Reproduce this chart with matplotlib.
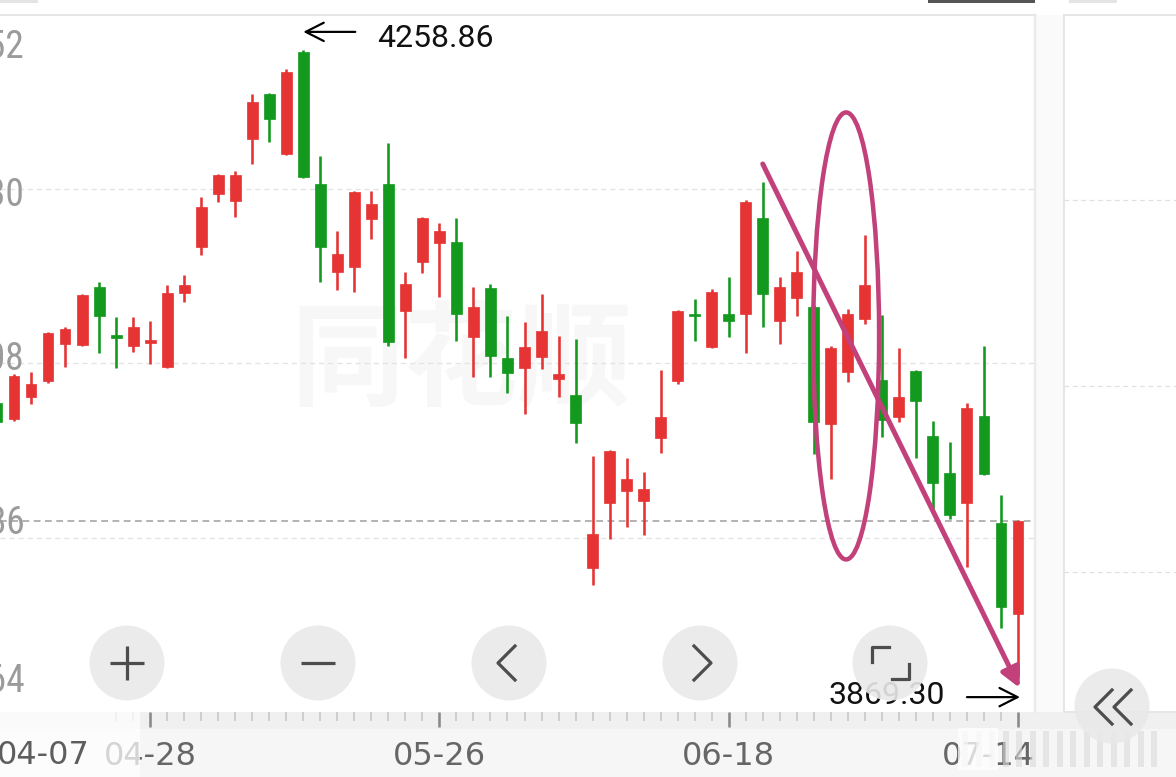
import matplotlib
matplotlib.use("Agg")
import matplotlib.pyplot as plt
import matplotlib.transforms as mtransforms
from matplotlib import font_manager
from matplotlib.patches import Rectangle, Circle, Ellipse, FancyArrowPatch

plt.rcParams['font.family'] = ['DejaVu Sans', 'Noto Sans CJK SC']

# ---------------- data ----------------
candle_index = list(range(-1, 60))
opens = [4039.6, 4029.6, 4043.3, 4053.2, 4076.2, 4075.6, 4111.6, 4080.9, 4075.0, 4076.8,
         4061.9, 4107.9, 4136.5, 4169.4, 4165.0, 4203.5, 4231.5, 4194.2, 4257.6, 4175.6,
         4120.9, 4124.0, 4153.8, 4175.6, 4096.7, 4127.1, 4138.9, 4139.6, 4080.6, 4111.0,
         4067.5, 4061.3, 4068.1, 4054.5, 4044.5, 3937.1, 3977.5, 3984.9, 3978.7, 4017.8,
         4053.2, 4094.2, 4074.4, 4094.9, 4094.9, 4154.5, 4090.5, 4104.8, 4099.2, 4026.5,
         4058.8, 4091.7, 4053.9, 4030.9, 4059.4, 4019.1, 3996.1, 3977.5, 4031.5, 3965.1,
         3908.6]
highs = [4041.4, 4057.6, 4058.8, 4083.7, 4086.8, 4107.3, 4114.7, 4093.0, 4093.0, 4090.5,
         4112.9, 4119.1, 4167.5, 4181.5, 4183.7, 4231.5, 4232.1, 4247.0, 4258.86, 4193.0,
         4146.4, 4171.2, 4171.2, 4201.0, 4120.9, 4155.1, 4151.4, 4154.5, 4111.6, 4113.5,
         4093.6, 4089.9, 4107.3, 4081.2, 4079.3, 4006.7, 4010.4, 4005.4, 3996.7, 4060.1,
         4097.3, 4104.2, 4110.4, 4117.8, 4165.6, 4176.8, 4117.8, 4134.0, 4100.4, 4075.0,
         4098.0, 4143.9, 4094.2, 4073.7, 4060.1, 4028.4, 4015.4, 4039.6, 4075.0, 3982.4,
         3966.8]
lows = [4025.9, 4028.4, 4039.0, 4052.0, 4061.9, 4075.2, 4070.6, 4061.3, 4071.3, 4063.8,
        4061.5, 4102.3, 4131.5, 4164.4, 4155.1, 4188.0, 4201.7, 4193.8, 4179.5, 4114.7,
        4109.8, 4108.5, 4141.4, 4075.0, 4067.5, 4120.3, 4105.4, 4078.1, 4055.7, 4055.7,
        4045.8, 4032.7, 4060.7, 4043.3, 4014.7, 3926.6, 3955.1, 3962.6, 3957.6, 4008.5,
        4051.4, 4078.1, 4073.6, 4080.6, 4070.6, 4086.8, 4076.2, 4093.6, 4007.9, 3992.4,
        4052.6, 4088.6, 4018.5, 4027.8, 4005.4, 3971.3, 3967.5, 3937.7, 3995.0, 3899.9,
        3869.30]
closes = [4027.8, 4056.3, 4051.4, 4083.0, 4085.5, 4106.6, 4093.6, 4080.2, 4086.8, 4078.7,
          4107.9, 4112.9, 4161.3, 4181.2, 4181.2, 4226.5, 4215.9, 4245.1, 4179.9, 4136.5,
          4132.1, 4170.6, 4163.2, 4077.5, 4113.5, 4154.5, 4146.4, 4094.9, 4099.2, 4068.8,
          4058.2, 4074.4, 4084.3, 4057.6, 4027.2, 3958.2, 4009.8, 3992.4, 3986.2, 4030.9,
          4096.7, 4093.3, 4108.5, 4090.5, 4164.4, 4107.3, 4111.6, 4120.9, 4027.8, 4073.7,
          4094.9, 4112.9, 4029.0, 4043.3, 4040.8, 3989.9, 3970.0, 4036.5, 3995.5, 3912.9,
          3966.3]

date_ticks = [8, 25, 42, 59]
date_labels = ['04-28', '05-26', '06-18', '07-14']
first_date_label = '04-07'
y_ticks = [4280.52, 4172.30, 4064.08, 3955.86, 3847.64]
y_tick_labels = ['4280.52', '4172.30', '4064.08', '3955.86', '3847.64']
high_idx, high_val = 17, 4258.86
low_idx, low_val = 59, 3869.30
trend_start = (44.0, 4188.0)
trend_end = (59.1, 3862.6)
ellipse_center = (48.9, 4081.2)
ellipse_size = (3.88, 277.6)
watermark = '同花顺'

# condensed font for the price axis labels, if one is installed
_names = {f.name for f in font_manager.fontManager.ttflist}
NARROW = 'DejaVu Sans'
for cand in ['Liberation Sans Narrow', 'DejaVu Sans Condensed', 'Roboto Condensed']:
    if cand in _names:
        NARROW = cand
        break
narrow_kw = {}
if NARROW == 'DejaVu Sans':
    for f in font_manager.fontManager.ttflist:
        if f.name == 'DejaVu Sans' and 'ondensed' in f.fname:
            narrow_kw = {'fontproperties': font_manager.FontProperties(fname=f.fname, size=26)}
            break

# ---------------- figure / layout ----------------
W, H = 1176, 777
DPI = 100
fig = plt.figure(figsize=(W / DPI, H / DPI), dpi=DPI)
fig.patch.set_facecolor('white')

RED = '#e63434'
GREEN = '#14991f'
MAG = '#c2417b'
PT = 72.0 / DPI  # pixels -> points

bg = fig.add_axes([0, 0, 1, 1], zorder=0)
bg.set_xlim(0, W); bg.set_ylim(H, 0); bg.axis('off')

# bottom band
bg.add_patch(Rectangle((0, 712), W, 65, color='#f6f6f6', lw=0))
bg.add_patch(Rectangle((0, 712), W, 17, color='#f0f0f0', lw=0))
# gap between main chart and right panel
bg.add_patch(Rectangle((1036, 15), 28, 697, color='#fafafa', lw=0))
# right panel
bg.add_patch(Rectangle((1064, 15), 120, 697, facecolor='white', edgecolor='#e6e6e6', lw=2 * PT))
for gy in [200, 386, 572]:
    bg.plot([1064, 1176], [gy, gy], color='#e0e0e0', lw=1.2 * PT, dashes=(4, 3))
# top bars
bg.add_patch(Rectangle((0, 0), 38, 2.5, color='#e4e4e4', lw=0))
bg.add_patch(Rectangle((928, 0), 107, 2.5, color='#555555', lw=0))
bg.add_patch(Rectangle((1069, 0), 48, 2.5, color='#e4e4e4', lw=0))

# main chart axes
ax = fig.add_axes([0, 1 - 712 / H, 1035 / W, 697 / H], zorder=1)
ax.set_facecolor('white')
ax.set_xlim(-0.823, 60.0)
ax.set_ylim(y_ticks[-1], y_ticks[0])
for s in ['left', 'bottom']:
    ax.spines[s].set_visible(False)
ax.spines['top'].set_color('#e6e6e6'); ax.spines['top'].set_linewidth(2 * PT)
ax.spines['right'].set_color('#ebebeb'); ax.spines['right'].set_linewidth(2.5 * PT)
ax.set_yticks([])

# watermark
ax.text(0.446, 0.50, watermark, transform=ax.transAxes, ha='center', va='center',
        fontsize=82, fontweight='bold', color='#f7f7f7', family=['Noto Sans CJK SC'], zorder=0)

# grid lines
for v in y_ticks[1:4]:
    ax.axhline(v, color='#e3e3e3', lw=1.3 * PT, dashes=(4, 3), zorder=1)
ax.axhline(closes[-1], color='#9c9c9c', lw=1.5 * PT, dashes=(4.5, 3), zorder=1)

# candles
body_w = 0.64
for i, o, h, l, c in zip(candle_index, opens, highs, lows, closes):
    col = RED if c >= o else GREEN
    ax.vlines(i, l, h, color=col, lw=2.6 * PT, zorder=3)
    bottom = min(o, c)
    height = max(abs(c - o), 1.3)
    ax.add_patch(Rectangle((i - body_w / 2, bottom), body_w, height, facecolor=col,
                           edgecolor=col, lw=0.5, zorder=4))

# x ticks
ax.set_xticks(date_ticks)
ax.set_xticklabels(date_labels)
ax.set_xticks(list(range(6, 60)), minor=True)
ax.tick_params(axis='x', which='major', length=15 * PT, width=2.6 * PT, color='#8a8a8a',
               labelsize=23, labelcolor='#666666', pad=10, direction='out')
ax.tick_params(axis='x', which='minor', length=9 * PT, width=1.5 * PT, color='#c4c4c4',
               direction='out')
last_lbl = ax.get_xticklabels()[-1]
last_lbl.set_horizontalalignment('right')
last_lbl.set_transform(last_lbl.get_transform() +
                       mtransforms.ScaledTranslation(17 / DPI, 0, fig.dpi_scale_trans))

# y labels (partially cut off at left edge, as in the screenshot)
label_dy = [-33, -6, 4, 14, 30]
ytrans = mtransforms.blended_transform_factory(ax.transAxes, ax.transData)
for v, lab, dy in zip(y_ticks, y_tick_labels, label_dy):
    tr = ytrans + mtransforms.ScaledTranslation(0, dy / DPI, fig.dpi_scale_trans)
    if narrow_kw:
        ax.text(25 / 1035, v, lab, transform=tr, ha='right', va='center',
                color='#9b9b9b', clip_on=False, zorder=6, **narrow_kw)
    else:
        ax.text(25 / 1035, v, lab, transform=tr, ha='right', va='center', fontsize=27,
                family=[NARROW], color='#9b9b9b', clip_on=False, zorder=6)


def shifted(dx, dy):
    return ax.transData + mtransforms.ScaledTranslation(dx / DPI, dy / DPI, fig.dpi_scale_trans)


# high annotation
ax.annotate('', xy=(high_idx, high_val), xycoords=shifted(0, 18),
            xytext=(52, 0), textcoords='offset pixels',
            arrowprops=dict(arrowstyle='->,head_length=0.65,head_width=0.33', lw=2.2 * PT,
                            color='black', mutation_scale=20, shrinkA=0, shrinkB=0),
            annotation_clip=False, zorder=7)
ax.annotate(f'{high_val:.2f}', xy=(high_idx, high_val), xytext=(74, 11),
            textcoords='offset pixels', ha='left', va='center', fontsize=23,
            family=['Roboto'], color='#111111', annotation_clip=False, zorder=7)
# low annotation
ax.annotate('', xy=(low_idx, low_val), xycoords=shifted(2, -20),
            xytext=(-53, 0), textcoords='offset pixels',
            arrowprops=dict(arrowstyle='->,head_length=0.65,head_width=0.33', lw=2.2 * PT,
                            color='black', mutation_scale=20, shrinkA=0, shrinkB=0),
            annotation_clip=False, zorder=7)
ax.annotate(f'{low_val:.2f}', xy=(low_idx, low_val), xytext=(-73, -18),
            textcoords='offset pixels', ha='right', va='center', fontsize=23,
            family=['Roboto'], color='#111111', annotation_clip=False, zorder=7)

# hand-drawn trend arrow and ellipse
ax.add_patch(FancyArrowPatch(trend_start, trend_end,
                             arrowstyle='-|>,head_length=1.3,head_width=0.65',
                             mutation_scale=9, color=MAG, lw=5 * PT,
                             shrinkA=0, shrinkB=0, zorder=8, clip_on=False))
ax.add_patch(Ellipse(ellipse_center, ellipse_size[0], ellipse_size[1], fill=False,
                     edgecolor=MAG, lw=4.5 * PT, zorder=8))

# ---------------- overlay (buttons etc.) ----------------
ov = fig.add_axes([0, 0, 1, 1], zorder=3)
ov.set_xlim(0, W); ov.set_ylim(H, 0); ov.axis('off'); ov.patch.set_alpha(0)

# fade box at the left of the date band
ov.add_patch(Rectangle((0, 712), 140, 65, color='white', alpha=0.72, lw=0))
ov.text(90, 755, first_date_label, ha='right', va='center', fontsize=23, color='#5e5e5e')

# blurred area at bottom right
for k in range(15):
    x0 = 962 + 13.5 * k
    ov.add_patch(Rectangle((x0, 731), 6, 36, color='#dadada', alpha=0.6, lw=0))
ov.add_patch(Rectangle((958, 728), 40, 42, color='white', alpha=0.75, lw=0))

ICON = '#4d4d4d'
ilw = 3.2 * PT
buttons = [(127, 663), (318, 663), (509, 663), (700, 663), (890, 663), (1112, 706)]
for (bx, by) in buttons:
    ov.add_patch(Circle((bx, by), 37.5, facecolor='#e9e9e9', edgecolor='none', alpha=0.9))
# plus
ov.plot([110, 144], [663, 663], color=ICON, lw=ilw, solid_capstyle='butt')
ov.plot([127, 127], [646, 680], color=ICON, lw=ilw, solid_capstyle='butt')
# minus
ov.plot([301, 335], [663, 663], color=ICON, lw=ilw, solid_capstyle='butt')
# left / right chevrons
ov.plot([515, 498, 515], [646, 663, 680], color=ICON, lw=ilw)
ov.plot([694, 711, 694], [646, 663, 680], color=ICON, lw=ilw)
# fullscreen corners
ov.plot([889, 872, 872], [647, 647, 662], color=ICON, lw=ilw)
ov.plot([892, 909, 909], [679, 679, 664], color=ICON, lw=ilw)
# double chevron
ov.plot([1112, 1095, 1112], [690, 707, 724], color=ICON, lw=ilw)
ov.plot([1131, 1114, 1131], [690, 707, 724], color=ICON, lw=ilw)

fig.savefig('out.png', dpi=DPI, facecolor='white')
